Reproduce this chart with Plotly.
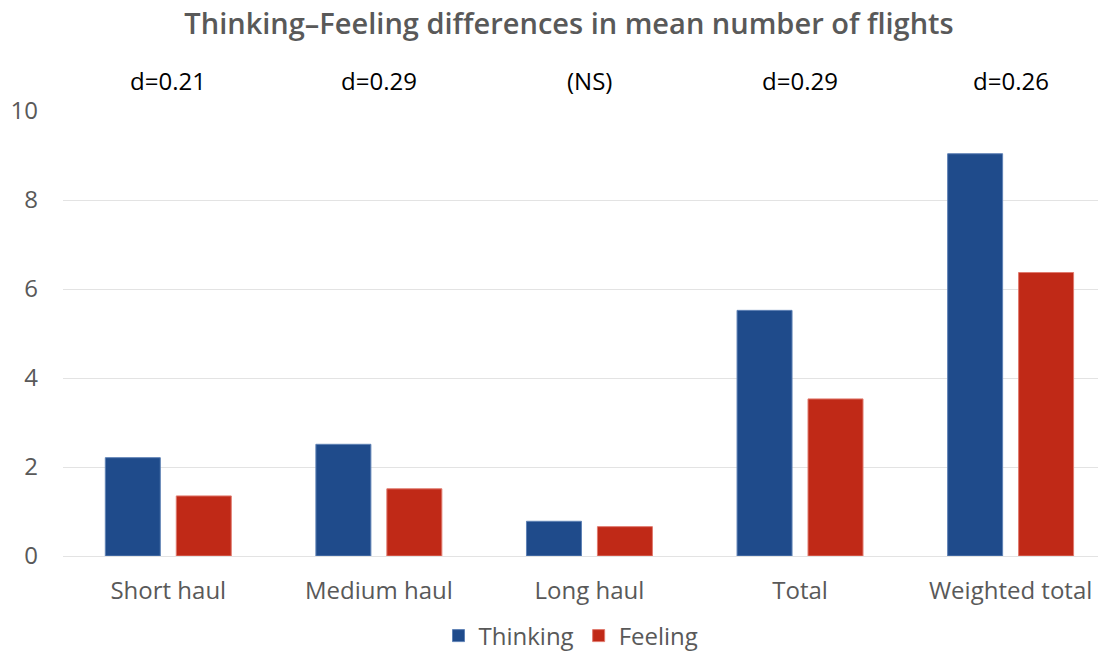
import plotly.graph_objects as go

categories = ["Short haul", "Medium haul", "Long haul", "Total", "Weighted total"]
thinking = [2.21, 2.51, 0.78, 5.52, 9.04]
feeling = [1.35, 1.51, 0.66, 3.53, 6.37]
effect_labels = ["d=0.21", "d=0.29", "(NS)", "d=0.29", "d=0.26"]
y_ticks = [0, 2, 4, 6, 8, 10]

FONT = "Open Sans"
GREY = "#595959"
FS = 24
W, H = 1098, 644  # page body has an 8px margin

fig = go.Figure()
fig.add_trace(go.Bar(name="Thinking", x=categories, y=thinking,
                     marker=dict(color="#1F4B8B", line=dict(color="#5F82B5", width=1))))
fig.add_trace(go.Bar(name="Feeling", x=categories, y=feeling,
                     marker=dict(color="#C02917", line=dict(color="#E07A6E", width=1))))

for cat, lab in zip(categories, effect_labels):
    fig.add_annotation(x=cat, y=1.0, xref="x", yref="paper", yshift=31,
                       yanchor="middle", text=lab, showarrow=False,
                       font=dict(family=FONT, size=FS, color="#000000"))

fig.update_layout(
    width=W, height=H,
    margin=dict(l=55, r=0, t=103, b=96, autoexpand=False),
    paper_bgcolor="white", plot_bgcolor="white",
    barmode="group", bargap=0.326, bargroupgap=0.225,
    title=dict(text="Thinking–Feeling differences in mean number of flights",
               x=561 / W, xref="container", xanchor="center",
               y=1 - 16 / H, yref="container", yanchor="middle",
               font=dict(family=FONT, size=29, color=GREY, weight=600)),
    font=dict(family=FONT, size=FS, color=GREY),
    legend=dict(orientation="h", x=563 / W, xref="container", xanchor="center",
                y=1 - 628 / H, yref="container", yanchor="middle",
                font=dict(family=FONT, size=FS, color=GREY),
                traceorder="normal"),
    showlegend=True,
)
fig.update_xaxes(range=[-0.5, 4.453], showgrid=False, showline=False, ticks="",
                 automargin=False, ticklabelstandoff=18,
                 tickfont=dict(family=FONT, size=FS, color=GREY))
fig.update_yaxes(range=[0, 10], tickvals=y_ticks, showgrid=True, gridcolor="#E3E3E3",
                 gridwidth=1, zeroline=True, zerolinecolor="#E3E3E3", zerolinewidth=1,
                 showline=False, ticks="", ticklabelstandoff=24, automargin=False,
                 tickfont=dict(family=FONT, size=FS, color=GREY))

fig.write_html("out.html")
